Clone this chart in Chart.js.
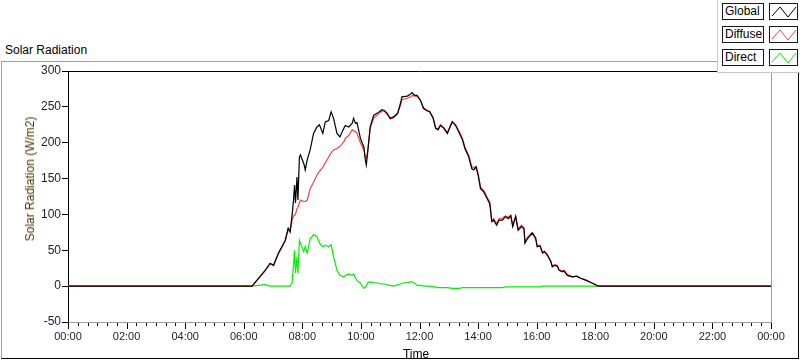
<!DOCTYPE html>
<html>
<head>
<meta charset="utf-8">
<script src="https://cdn.jsdelivr.net/npm/chart.js@4"></script>
<style>
  body { margin: 0; background: #fff; font-family: "Liberation Sans", Arial, sans-serif; }
  #wrap { position: relative; width: 800px; height: 361px; overflow: hidden; }
  #frame { position: absolute; left: 1px; top: 61px; width: 798px; height: 298px; box-sizing: border-box;
           border-top: 1px solid #a0a0a0; border-left: 1px solid #a0a0a0; border-right: 1px solid #000; border-bottom: 1px solid #000; }
  #caption { position: absolute; left: 5px; top: 43px; font-size: 12px; color: #000; }
  #ytitle { position: absolute; left: 30px; top: 179px; font-size: 12px; color: #4d3300; white-space: nowrap;
            transform: translate(-50%, -50%) rotate(-90deg); }
  #xtitle { position: absolute; left: 416px; top: 354px; font-size: 12px; color: #000; transform: translate(-50%, -50%); }
  canvas { position: absolute; left: 0; top: 0; }
  #legend { position: absolute; left: 717px; top: 0; width: 83px; height: 73px; box-sizing: border-box; background: #fff;
            border-left: 1px solid #c8c8c8; border-bottom: 1px solid #c8c8c8; }
  .lbl, .smp { position: absolute; height: 17px; box-sizing: border-box; border: 1px solid #1a1a1a; background: #fff; }
  .lbl { left: 4px; width: 42px; font-size: 12px; line-height: 15px; padding-left: 2px; color: #000; }
  .smp { left: 51px; width: 29px; }
  .smp svg { position: absolute; left: 0; top: 0; }
</style>
</head>
<body>
<div id="wrap">
  <div id="frame"></div>
  <div id="caption">Solar Radiation</div>
  <canvas id="solarChart" width="800" height="361"></canvas>
  <div id="ytitle">Solar Radiation (W/m2)</div>
  <div id="xtitle">Time</div>
  <div id="legend"></div>
</div>
<script>
// readings (time of day, W/m2)
const times = [
  "00:00","06:17","06:44","06:54","07:01","07:11","07:25","07:31","07:35","07:39",
  "07:42","07:44","07:46","07:49","07:51","07:54","07:56","08:03","08:06","08:10",
  "08:16","08:23","08:30","08:35","08:42","08:47","08:54","08:59","09:04","09:11",
  "09:17","09:25","09:28","09:35","09:42","09:45","09:49","09:52","09:59","10:06",
  "10:09","10:11","10:14","10:19","10:26","10:37","10:43","10:48","10:54","11:00",
  "11:07","11:15","11:21","11:24","11:35","11:42","11:45","11:50","11:55","12:02",
  "12:08","12:14","12:21","12:28","12:33","12:38","12:43","12:50","12:57","13:07",
  "13:14","13:22","13:28","13:33","13:41","13:47","13:51","13:56","14:00","14:05",
  "14:12","14:17","14:24","14:28","14:32","14:38","14:43","14:50","14:56","15:02",
  "15:07","15:11","15:17","15:22","15:29","15:34","15:36","15:41","15:51","15:58",
  "16:01","16:07","16:12","16:16","16:22","16:29","16:32","16:37","16:42","16:46",
  "16:53","16:56","17:03","17:13","17:22","17:30","17:41","17:51","18:01","18:05",
  "24:00"
];

const globalValues = [
  0, 0, 22, 32, 29, 46, 64, 81, 76, 99,
  120, 141, 116, 152, 120, 180, 183, 171, 162, 176,
  190, 213, 222, 225, 213, 229, 231, 243, 234, 213,
  208, 220, 224, 222, 227, 234, 227, 228, 206, 194,
  176, 169, 187, 222, 238, 243, 246, 245, 241, 234,
  236, 241, 255, 264, 265, 268, 270, 266, 266, 259,
  248, 245, 243, 234, 220, 218, 224, 220, 213, 229,
  224, 213, 204, 192, 180, 164, 162, 166, 155, 136,
  131, 124, 115, 90, 92, 85, 92, 92, 97, 94,
  98, 83, 97, 78, 83, 80, 60, 66, 74, 66,
  55, 56, 46, 48, 43, 34, 27, 29, 28, 22,
  20, 21, 15, 13, 14, 11, 8, 5, 2, 0,
  0
];

const diffuseValues = [
  0, 0, 22, 31, 29, 45, 63, 79, 75, 92,
  98, 99, 100, 108, 110, 116, 120, 118, 118, 120,
  136, 145, 155, 160, 166, 172, 180, 186, 190, 192,
  195, 201, 206, 210, 218, 217, 215, 213, 200, 190,
  180, 178, 190, 220, 234, 241, 244, 244, 239, 233,
  235, 240, 252, 260, 262, 264, 266, 265, 265, 259,
  249, 246, 244, 235, 221, 219, 225, 221, 214, 230,
  225, 215, 206, 194, 182, 167, 165, 167, 157, 138,
  133, 126, 117, 92, 94, 87, 94, 95, 98, 96,
  99, 85, 98, 80, 85, 81, 62, 68, 75, 68,
  57, 57, 47, 49, 44, 35, 28, 30, 29, 23,
  21, 22, 16, 13, 14, 11, 9, 5, 2, 0,
  0
];

const directValues = [
  0, 0, 2, 0, 0, 0, 0, 0, 0, 4,
  30, 50, 18, 41, 18, 64, 60, 48, 55, 46,
  66, 72, 69, 60, 55, 57, 55, 58, 41, 22,
  15, 13, 15, 17, 15, 17, 11, 8, 4, -3,
  -2, 0, 5, 6, 5, 4, 3, 3, 2, 1,
  0, 2, 3, 4, 5, 6, 6, 4, 1, 1,
  0, 0, 0, -1, -1, -2, -2, -2, -2, -3,
  -3, -3, -2, -2, -2, -2, -2, -2, -2, -2,
  -2, -2, -2, -2, -2, -2, -2, -2, -1, -1,
  -1, -1, -1, -1, -1, -1, -1, -1, -1, -1,
  -1, -1, 0, 0, 0, 0, 0, 0, 0, 0,
  0, 0, 0, 0, 0, 0, 0, 0, 0, 0,
  0
];

const seriesNames = ["Global", "Diffuse", "Direct"];
const seriesColors = ["#000000", "#ff3c3c", "#00f000"];
const yTicks = [-50, 0, 50, 100, 150, 200, 250, 300];

// "HH:MM" -> minutes
const toMinutes = (t) => {
    const [h, m] = t.split(":").map(Number);
    return h * 60 + m;
};

const makePoints = (values) => times.map((t, i) => ({ x: toMinutes(t), y: values[i] }));

// plot frame + x tick marks (20 min minor, 2 h major)
const framePlugin = {
    id: "frame",
    afterDraw(chart) {
        const ctx = chart.ctx;
        const a = chart.chartArea;
        const xs = chart.scales.x;
        ctx.save();
        ctx.lineWidth = 1;
        ctx.strokeStyle = "#000";
        ctx.beginPath();
        ctx.moveTo(a.left, Math.round(a.top) + 0.5);
        ctx.lineTo(a.right, Math.round(a.top) + 0.5);
        ctx.stroke();
        ctx.strokeStyle = "#a0a0a0";
        ctx.beginPath();
        ctx.moveTo(Math.round(a.right) + 0.5, a.top);
        ctx.lineTo(Math.round(a.right) + 0.5, a.bottom);
        ctx.stroke();
        ctx.strokeStyle = "#000";
        for (let m = 0; m <= 1440; m += 20) {
            const px = Math.round(xs.getPixelForValue(m)) + 0.5;
            const len = m % 120 === 0 ? 6 : 3;
            ctx.beginPath();
            ctx.moveTo(px, a.bottom + 1);
            ctx.lineTo(px, a.bottom + 1 + len);
            ctx.stroke();
        }
        ctx.restore();
    }
};

const ctx = document.getElementById("solarChart").getContext("2d");
const valueSets = [globalValues, diffuseValues, directValues];

const solarChart = new Chart(ctx, {
    type: "line",
    data: {
        datasets: seriesNames.map((name, i) => ({
            label: name,
            data: makePoints(valueSets[i]),
            borderColor: seriesColors[i],
            borderWidth: 1.2,
            pointRadius: 0,
            fill: false,
            tension: 0
        }))
    },
    options: {
        responsive: false,
        animation: false,
        layout: { padding: { left: 0, right: 29, top: 71, bottom: 0 } },
        plugins: { legend: { display: false }, tooltip: { enabled: false } },
        scales: {
            x: {
                type: "linear",
                min: 0,
                max: 1440,
                afterFit: (s) => { s.height = 39; },
                border: { display: true, color: "#a0a0a0", width: 1 },
                grid: { display: true, drawOnChartArea: false, drawTicks: true, tickLength: 6, color: "rgba(0,0,0,0)" },
                ticks: {
                    stepSize: 120,
                    autoSkip: false,
                    maxRotation: 0,
                    padding: 2,
                    color: "#1a1a33",
                    font: { family: "Liberation Sans", size: 11 },
                    callback: (v) => String(Math.floor(v / 60) % 24).padStart(2, "0") + ":00"
                }
            },
            y: {
                min: yTicks[0],
                max: yTicks[yTicks.length - 1],
                afterFit: (s) => { s.width = 68; },
                border: { display: true, color: "#000", width: 1 },
                grid: { drawOnChartArea: false, drawTicks: true, tickLength: 6, color: "#000" },
                ticks: {
                    stepSize: 50,
                    padding: 1,
                    color: "#1a1a33",
                    font: { family: "Liberation Sans", size: 12 }
                }
            }
        }
    },
    plugins: [framePlugin]
});

// legend panel, same look as the instrument front panel
const legend = document.getElementById("legend");
seriesNames.forEach((name, i) => {
    const top = 3 + i * 23;
    legend.innerHTML += `
        <div class="lbl" style="top:${top}px">${name}</div>
        <div class="smp" style="top:${top}px">
            <svg width="27" height="15"><polyline points="2,12 10,3 18,13 26,3" fill="none" stroke="${seriesColors[i]}" stroke-width="1"/></svg>
        </div>`;
});
</script>
</body>
</html>
